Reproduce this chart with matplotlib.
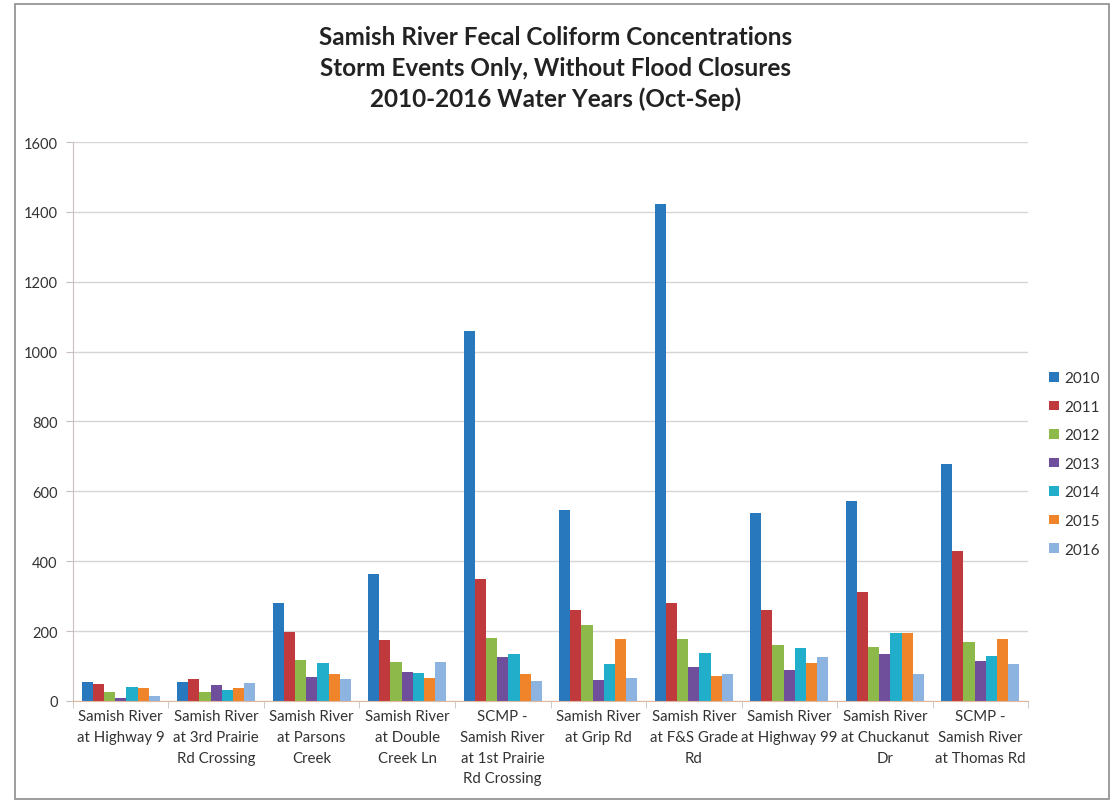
import numpy as np
import matplotlib
matplotlib.use("Agg")
import matplotlib.pyplot as plt
from matplotlib import patches

plt.rcParams['font.family'] = ['Lato', 'DejaVu Sans']

# Sites along the x-axis (label text as shown, with its line breaks)
sites = [
    "Samish River\nat Highway 9",
    "Samish River\nat 3rd Prairie\nRd Crossing",
    "Samish River\nat Parsons\nCreek",
    "Samish River\nat Double\nCreek Ln",
    "SCMP -\nSamish River\nat 1st Prairie\nRd Crossing",
    "Samish River\nat Grip Rd",
    "Samish River\nat F&S Grade\nRd",
    "Samish River\nat Highway 99",
    "Samish River\nat Chuckanut\nDr",
    "SCMP -\nSamish River\nat Thomas Rd",
]

years = ["2010", "2011", "2012", "2013", "2014", "2015", "2016"]

# fecal coliform values per water year, one entry per site
wy2010 = [55, 55, 280, 364, 1058, 547, 1422, 538, 572, 678]
wy2011 = [50, 63, 198, 175, 348, 260, 280, 260, 311, 430]
wy2012 = [26, 27, 116, 112, 180, 218, 176, 160, 154, 169]
wy2013 = [8, 46, 70, 82, 127, 59, 98, 90, 134, 115]
wy2014 = [39, 32, 109, 79, 134, 105, 138, 153, 196, 129]
wy2015 = [36, 36, 76, 66, 76, 176, 71, 110, 196, 178]
wy2016 = [13, 52, 63, 113, 56, 67, 78, 125, 78, 105]

series = [wy2010, wy2011, wy2012, wy2013, wy2014, wy2015, wy2016]
colors = ['#2878BE', '#C0393D', '#8DB84A', '#6F4E9C', '#21AECB', '#F0842A', '#8DB4E0']

fig = plt.figure(figsize=(11.11, 8.03), dpi=100)
ax = fig.add_axes([0.0657, 0.1258, 0.8596, 0.6961])

# grey frame round the whole chart
fig.patches.append(patches.Rectangle((15 / 1111, 3 / 803), 1094 / 1111, 795 / 803,
                                     transform=fig.transFigure, fill=False,
                                     edgecolor='#8c8c8c', linewidth=1.2))

x = np.arange(len(sites))
w = 0.117
for i, (vals, c, yr) in enumerate(zip(series, colors, years)):
    ax.bar(x + (i - 3) * w, vals, width=w, color=c, label=yr, linewidth=0)

ax.set_xlim(-0.5, len(sites) - 0.5)
ax.set_ylim(0, 1600)
ax.set_yticks(np.arange(0, 1601, 200))
ax.yaxis.grid(True, color='#d9d4d4', linewidth=1)
ax.set_axisbelow(True)

for s in ['top', 'right']:
    ax.spines[s].set_visible(False)
ax.spines['left'].set_color('#c9bfbf')
ax.spines['bottom'].set_color('#e0b8a0')

# labels under each group, tick marks between groups
ax.set_xticks(x)
ax.set_xticklabels(sites, fontsize=10.8, color='#333333', linespacing=1.6)
ax.tick_params(axis='x', length=0, pad=6)
ax.set_xticks(np.arange(-0.5, len(sites), 1), minor=True)
ax.tick_params(axis='x', which='minor', length=5, color='#c9bfbf')
ax.tick_params(axis='y', length=5, color='#c9bfbf', labelsize=10.5,
               labelcolor='#333333', pad=6)

fig.text(0.5, 0.968, "Samish River Fecal Coliform Concentrations\n"
         "Storm Events Only, Without Flood Closures\n"
         "2010-2016 Water Years (Oct-Sep)",
         ha='center', va='top', fontsize=17.5, fontweight='bold',
         color='#222222', linespacing=1.42)

ax.legend(loc='center left', bbox_to_anchor=(1.008, 0.424), frameon=False,
          fontsize=11, handlelength=0.6, handleheight=0.6, handletextpad=0.4,
          labelspacing=0.95, labelcolor='#333333')

fig.savefig("out.png", dpi=100)
